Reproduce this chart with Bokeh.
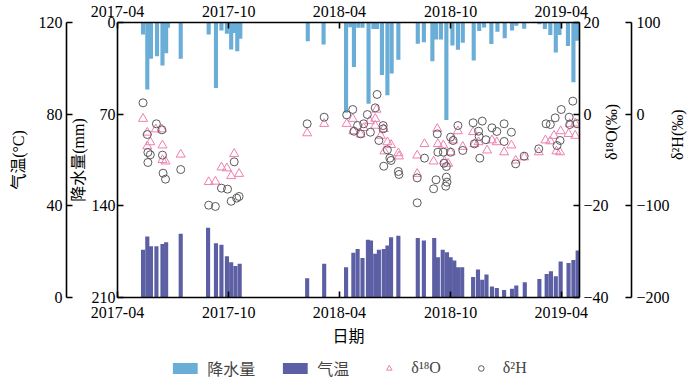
import math
import pandas as pd
from bokeh.plotting import figure
from bokeh.layouts import column
from bokeh.models import (Range1d, LinearAxis, DatetimeAxis, FixedTicker,
                          DatetimeTickFormatter, Legend, LegendItem, ColumnDataSource)
from bokeh.embed import file_html
from bokeh.resources import INLINE

# ---------------- data ----------------
date_ticks = ["2017-04-01", "2017-10-01", "2018-04-01", "2018-10-01", "2019-04-01"]
x_start, x_end = "2017-04-01", "2019-05-01"
legend_labels = ["降水量", "气温", "δ¹⁸O", "δ²H"]

precip_dates = ["2017-05-13", "2017-05-20", "2017-05-26", "2017-06-05", "2017-06-14", "2017-06-20",
                "2017-06-23", "2017-07-14", "2017-08-29", "2017-09-10", "2017-09-19", "2017-09-28",
                "2017-10-05", "2017-10-10", "2017-10-15", "2017-10-20", "2018-02-08", "2018-03-06",
                "2018-04-12", "2018-04-19", "2018-04-25", "2018-05-02", "2018-05-09", "2018-05-19",
                "2018-05-27", "2018-06-02", "2018-06-10", "2018-06-19", "2018-06-26", "2018-07-07",
                "2018-08-08", "2018-08-18", "2018-09-01", "2018-09-07", "2018-09-15", "2018-09-24",
                "2018-10-04", "2018-10-13", "2018-10-21", "2018-11-08", "2018-11-17", "2018-11-25",
                "2018-12-07", "2018-12-17", "2018-12-29", "2019-01-10", "2019-01-17", "2019-01-30",
                "2019-02-24", "2019-03-05", "2019-03-14", "2019-03-23", "2019-03-29", "2019-04-12",
                "2019-04-21", "2019-04-27"]
precip_mm = [9.2, 51.2, 27.7, 25.7, 32.8, 23.4, 4.1, 27.7, 9.2, 50.0, 6.1, 8.5, 20.6, 8.0, 22.0, 12.5,
             14.3, 16.8,
             69.0, 3.6, 34.0, 4.0, 4.0, 62.0, 5.0, 5.0, 40.0, 55.5, 39.0, 28.5,
             16.3, 15.0, 29.5, 13.0, 13.0, 74.5,
             17.6, 20.9, 15.5, 29.0, 6.5, 3.8, 16.5, 7.0, 12.0,
             6.1, 2.5, 4.8, 1.3, 5.0, 9.5, 23.0, 9.5, 18.0, 45.6, 14.0]

temp_dates = ["2017-05-13", "2017-05-20", "2017-05-26", "2017-06-04", "2017-06-14", "2017-06-20",
              "2017-07-14", "2017-08-28", "2017-09-10", "2017-09-19", "2017-09-28", "2017-10-05",
              "2017-10-12", "2017-10-19", "2018-02-07", "2018-03-07", "2018-04-12", "2018-04-24",
              "2018-05-01", "2018-05-09", "2018-05-18", "2018-05-23", "2018-05-30", "2018-06-05",
              "2018-06-13", "2018-06-19", "2018-06-25", "2018-07-07", "2018-08-08", "2018-08-18",
              "2018-09-04", "2018-09-10", "2018-09-18", "2018-09-25", "2018-10-01", "2018-10-07",
              "2018-10-13", "2018-10-20", "2018-11-07", "2018-11-15", "2018-11-22", "2018-11-29",
              "2018-12-08", "2018-12-16", "2018-12-28", "2019-01-10", "2019-01-17", "2019-01-31",
              "2019-02-24", "2019-03-08", "2019-03-15", "2019-03-23", "2019-03-31", "2019-04-13",
              "2019-04-21", "2019-04-28"]
temp_c = [20.8, 26.6, 22.4, 22.4, 23.4, 24.1, 27.8, 30.4, 23.7, 23.0, 18.0, 15.4, 13.7, 14.7,
          8.4, 14.7,
          13.2, 19.5, 21.2, 17.2, 25.2, 24.9, 19.1, 20.8, 21.2, 22.7, 26.3, 26.9,
          26.0, 24.9, 26.0, 17.6, 20.8, 19.8, 17.6, 16.1, 13.2, 13.2,
          8.9, 12.2, 7.7, 10.0, 4.8, 4.2, 3.3,
          3.8, 5.2, 6.7, 8.1, 10.3, 11.5, 9.3, 15.7, 15.1, 16.4, 20.5]

o18_dates = ["2017-05-13", "2017-05-20", "2017-06-03", "2017-06-13", "2017-05-25", "2017-05-20",
             "2017-06-14", "2017-07-14", "2017-06-14", "2017-06-19", "2017-10-10", "2017-09-19",
             "2017-09-28", "2017-08-29", "2017-09-09", "2017-10-05", "2017-10-18", "2018-02-07",
             "2018-03-07",
             "2018-04-13", "2018-04-23", "2018-04-24", "2018-05-06", "2018-05-11", "2018-05-21",
             "2018-05-30", "2018-06-01", "2018-05-30", "2018-06-08", "2018-06-13", "2018-06-19",
             "2018-06-25", "2018-06-14", "2018-07-07", "2018-07-08", "2018-08-07", "2018-08-07",
             "2018-08-19", "2018-09-09", "2018-09-10", "2018-09-03", "2018-09-19", "2018-09-21",
             "2018-09-27", "2018-10-05", "2018-10-01", "2018-10-13", "2018-10-21", "2018-11-07",
             "2018-11-09", "2018-11-16", "2018-11-30", "2018-12-08", "2018-12-16", "2018-12-28",
             "2019-01-09", "2019-01-16", "2019-01-30", "2019-02-23", "2019-03-06", "2019-03-14",
             "2019-03-20", "2019-03-31", "2019-03-24", "2019-03-30", "2019-04-13", "2019-04-24",
             "2019-04-15", "2019-04-24"]
o18_vals = [-1.0, -4.0, -3.3, -3.3, -6.1, -7.0, -6.8, -8.8, -10.0, -10.3, -8.65, -11.6, -11.8,
            -14.8, -14.7, -13.5, -13.0, -4.15, -2.1,
            -2.1, -1.0, -3.7, -4.4, -3.0, -1.5, -1.0, 1.0, -2.5, -4.7, -3.2, -6.1, -6.7, -8.1,
            -8.5, -9.2, -9.0, -13.0, -6.5,
            -3.2, -6.5, -10.3, -6.8, -10.3, -10.8, -5.7, -8.3, -3.7, -7.1,
            -3.9, -6.5, -6.1, -7.9, -5.7, -6.1, -8.3,
            -6.8, -10.1, -9.4, -8.3, -5.7, -5.9, -4.7, -3.7, -8.1, -8.3, -4.3, -4.7, -2.1, -2.0]

h2_dates = ["2017-05-13", "2017-06-04", "2017-05-20", "2017-06-13", "2017-05-21", "2017-05-25",
            "2017-06-14", "2017-05-21", "2017-07-14", "2017-06-15", "2017-06-19", "2017-10-10",
            "2017-09-19", "2017-09-29", "2017-08-29", "2017-09-09", "2017-10-05", "2017-10-14",
            "2017-10-18", "2018-02-07", "2018-03-07",
            "2018-04-13", "2018-04-23", "2018-06-02", "2018-05-30", "2018-05-17", "2018-05-11",
            "2018-05-01", "2018-04-25", "2018-05-06", "2018-05-22", "2018-06-12", "2018-06-12",
            "2018-06-05", "2018-06-19", "2018-06-23", "2018-06-25", "2018-06-13", "2018-07-07",
            "2018-07-08", "2018-08-07", "2018-08-07", "2018-08-19", "2018-09-03", "2018-09-07",
            "2018-09-09", "2018-09-10", "2018-09-19", "2018-09-20", "2018-09-24", "2018-09-24",
            "2018-09-25", "2018-09-23", "2018-10-01", "2018-10-05", "2018-10-01", "2018-10-13",
            "2018-10-21", "2018-11-07", "2018-11-16", "2018-11-17", "2018-11-09", "2018-11-22",
            "2018-11-18", "2018-11-28", "2018-12-08", "2018-12-16", "2018-12-28", "2018-12-28",
            "2019-01-09", "2019-01-16", "2019-01-30", "2019-02-23", "2019-03-07", "2019-03-14",
            "2019-03-22", "2019-04-01", "2019-04-20", "2019-04-14", "2019-04-15", "2019-03-30",
            "2019-03-25", "2019-04-27"]
h2_vals = [12.4, -10.5, -22.2, -17.1, -41.8, -44.3, -44.7, -52.7, -60.4, -64.4, -70.9, -52.0,
           -80.7, -81.8, -99.3, -100.7, -95.0, -91.6, -89.8, -10.5, -3.3,
           -0.7, 5.1, 21.5, 6.9, -0.4, -10.5, -12.4, -18.6, -21.5, -19.7, -12.4, -16.0,
           -28.7, -38.9, -48.0, -50.5, -56.8, -62.5, -65.8, -69.5, -96.7, -48.0, -81.4, -71.6,
           -21.5, -41.5, -41.5, -53.5, -57.1, -68.7, -74.2, -78.6, -25.1, -28.7, -41.5, -12.4,
           -39.6, -9.4, -18.6, -24.4, -32.4, -7.6, -48.0, -27.9, -14.9, -18.9, -10.5, -29.8,
           -19.7, -54.2, -45.8, -37.8, -10.5, -11.3, -4.0, 5.1, 14.2, -3.3, -11.3, -28.7,
           -34.2, -10.5]

# ---------------- styling ----------------
FONT = "'Liberation Serif', 'Noto Sans CJK SC'"
C_PRECIP = "#6aaed8"
C_TEMP = "#5c5fa3"
C_O18 = "#ee7fb0"
C_H2 = "#5a5a5a"
DAY_MS = 86400000.0


def ms(s):
    return pd.Timestamp(s).value / 1e6


p = figure(width=700, height=358, x_axis_type="datetime",
           x_range=Range1d(ms(x_start), ms(x_end)), y_range=Range1d(210, 0),
           output_backend="svg", toolbar_location=None,
           min_border_left=117, min_border_right=121, min_border_top=22, min_border_bottom=61)
p.extra_y_ranges = {"temp": Range1d(0, 120), "o18": Range1d(-40, 20), "h2": Range1d(-200, 100)}
p.grid.visible = False
p.outline_line_color = None
p.background_fill_color = "white"
p.border_fill_color = "white"


def style(ax, ticks, label=None, standoff=3, title_standoff=3, overrides=None):
    ax.ticker = FixedTicker(ticks=ticks)
    ax.axis_line_width = 1.6
    ax.axis_line_color = "black"
    ax.major_tick_line_width = 1.6
    ax.major_tick_line_color = "black"
    ax.major_tick_in = 6
    ax.major_tick_out = 0
    ax.minor_tick_line_color = None
    ax.major_label_text_font = FONT
    ax.major_label_text_font_size = "16px"
    ax.major_label_text_color = "black"
    ax.major_label_standoff = standoff
    if overrides:
        ax.major_label_overrides = overrides
    ax.axis_label = label
    ax.axis_label_text_font = FONT
    ax.axis_label_text_font_style = "normal"
    ax.axis_label_text_font_size = "16px"
    ax.axis_label_text_color = "black"
    ax.axis_label_standoff = title_standoff


def spacer(size):
    return LinearAxis(ticker=FixedTicker(ticks=[]), axis_line_color=None,
                      major_tick_in=0, major_tick_out=size, minor_tick_line_color=None,
                      major_label_text_font_size="0px")


date_fmt = DatetimeTickFormatter(days="%Y-%m", months="%Y-%m", years="%Y-%m")
tick_ms = [ms(d) for d in date_ticks]

# bottom date axis
xb = p.xaxis[0]
style(xb, tick_ms, "日期", standoff=9, title_standoff=7)
xb.formatter = date_fmt

# top date axis
xt = DatetimeAxis()
style(xt, tick_ms, None, standoff=6)
xt.formatter = date_fmt
p.add_layout(xt, "above")

# inner left: precipitation (reversed), outer left: temperature
yl = p.yaxis[0]
style(yl, [0, 70, 140, 210], "降水量(mm)", standoff=2, title_standoff=2)
p.add_layout(spacer(13), "left")
ytemp = LinearAxis(y_range_name="temp")
style(ytemp, [0, 40, 80, 120], "气温(°C)", standoff=4, title_standoff=9)
p.add_layout(ytemp, "left")

# right: isotopes
yo = LinearAxis(y_range_name="o18")
style(yo, [-40, -20, 0, 20], "δ¹⁸O(‰)", standoff=4, title_standoff=0,
      overrides={-40: "\u221240", -20: "\u221220"})
yo.axis_label_orientation = math.pi / 2
p.add_layout(yo, "right")
p.add_layout(spacer(9), "right")
yh = LinearAxis(y_range_name="h2")
style(yh, [-200, -100, 0, 100], "δ²H(‰)", standoff=5, title_standoff=5,
      overrides={-200: "\u2212200", -100: "\u2212100"})
yh.axis_label_orientation = math.pi / 2
p.add_layout(yh, "right")

# ---------------- glyphs ----------------
src_p = ColumnDataSource(dict(d=pd.to_datetime(precip_dates), v=precip_mm))
src_t = ColumnDataSource(dict(d=pd.to_datetime(temp_dates), v=temp_c))
src_o = ColumnDataSource(dict(d=pd.to_datetime(o18_dates), v=o18_vals))
src_h = ColumnDataSource(dict(d=pd.to_datetime(h2_dates), v=h2_vals))

W = 6.8 * DAY_MS
bar_p = dict(fill_color=C_PRECIP, line_color=None)
bar_t = dict(fill_color=C_TEMP, line_color=None)
mk_o = dict(marker="triangle", size=9, fill_color=None, line_color=C_O18, line_width=1)
mk_h = dict(marker="circle", size=8, fill_color=None, line_color=C_H2, line_width=1)

p.vbar(x="d", top="v", bottom=0, width=W, source=src_p, **bar_p)
p.vbar(x="d", top="v", bottom=0, width=W, source=src_t, y_range_name="temp", **bar_t)
p.scatter(x="d", y="v", source=src_o, y_range_name="o18", **mk_o)
p.scatter(x="d", y="v", source=src_h, y_range_name="h2", **mk_h)

# ---------------- legend strip (separate small figure below) ----------------
# same data sources; the strip's y range lies above all values, so only the legend shows
lf = figure(width=700, height=19, x_range=Range1d(ms(x_start), ms(x_end)),
            y_range=Range1d(500, 501), output_backend="svg", toolbar_location=None,
            x_axis_location=None, y_axis_location=None, min_border=0)
lf.grid.visible = False
lf.outline_line_color = None
lf.background_fill_color = "white"
lf.border_fill_color = "white"
lr_p = lf.vbar(x="d", top="v", bottom=0, width=W, source=src_p, **bar_p)
lr_t = lf.vbar(x="d", top="v", bottom=0, width=W, source=src_t, **bar_t)
lr_o = lf.scatter(x="d", y="v", source=src_o, **mk_o)
lr_h = lf.scatter(x="d", y="v", source=src_h, **mk_h)
legend = Legend(items=[LegendItem(label=lab, renderers=[r])
                       for lab, r in zip(legend_labels, [lr_p, lr_t, lr_o, lr_h])],
                orientation="horizontal", padding=0, margin=0, border_line_color=None,
                background_fill_alpha=0, label_text_font=FONT, label_text_font_size="16px",
                label_standoff=7, glyph_height=14, glyph_width=31, spacing=24,
                label_height=14, location="center")
lf.add_layout(legend, "center")

layout = column(p, lf, spacing=0)
open("out.html", "w").write(file_html(layout, INLINE))
